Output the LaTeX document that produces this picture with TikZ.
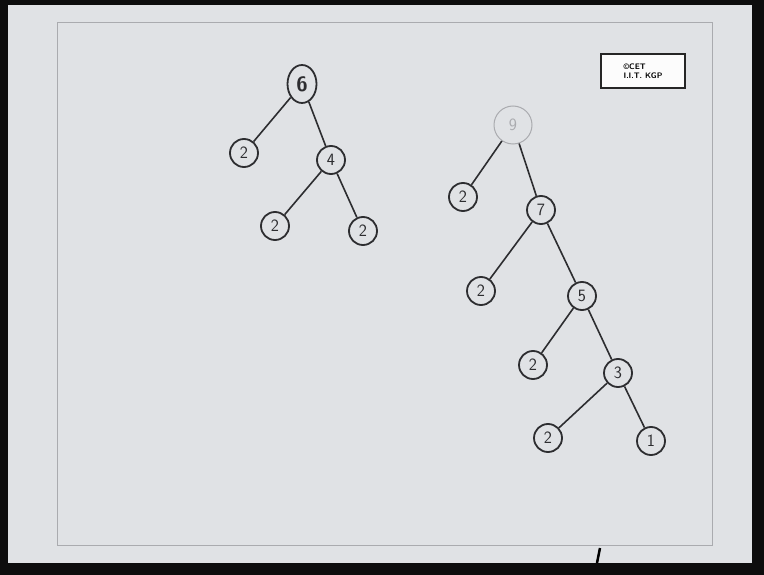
\documentclass[tikz,border=0pt]{standalone}
\usetikzlibrary{shapes.geometric}
\definecolor{paper}{RGB}{224,226,229}
\definecolor{pen}{RGB}{45,45,48}
\definecolor{faint}{RGB}{170,171,175}
\tikzset{
  vtx/.style={draw=pen, circle, line width=1.8pt, minimum size=28pt, inner sep=0pt, font=\LARGE\sffamily, text=pen},
  tall/.style={vtx, ellipse, minimum width=29pt, minimum height=38pt, font=\huge\sffamily\bfseries},
  ghost/.style={vtx, draw=faint, line width=1pt, minimum size=38pt, text=faint},
  edge/.style={draw=pen, line width=1.6pt}
}
\begin{document}
\begin{tikzpicture}[x=1pt, y=-1pt]
    \useasboundingbox (0,0) rectangle (764,575);
    \fill[black!95] (0,0) rectangle (764,575);
    \fill[paper] (8,5) rectangle (752,563);
    \draw[faint, line width=0.8pt] (57,22) rectangle (712,545);
    \node[draw=black!85, line width=1.2pt, fill=white!90!paper, minimum width=84pt, minimum height=34pt,
          align=left, font=\footnotesize\bfseries\sffamily] (logo) at (643,71) {\copyright CET\\I.I.T. KGP};
    \draw[black, line width=2.5pt] (600,548) -- (597,563);

    % first tree
    \node[tall] (six) at (302,84) {6};
    \node[vtx] (a2) at (244,153) {2};
    \node[vtx] (four) at (331,160) {4};
    \node[vtx] (b2) at (275,226) {2};
    \node[vtx] (c2) at (363,231) {2};

    % second tree
    \node[ghost] (nine) at (513,125) {9};
    \node[vtx] (d2) at (463,197) {2};
    \node[vtx] (seven) at (541,210) {7};
    \node[vtx] (e2) at (481,291) {2};
    \node[vtx] (five) at (582,296) {5};
    \node[vtx] (f2) at (533,365) {2};
    \node[vtx] (three) at (618,373) {3};
    \node[vtx] (g2) at (548,438) {2};
    \node[vtx] (one) at (651,441) {1};

    % Edges
    \draw[edge] (six) -- (a2);
    \draw[edge] (six) -- (four);
    \draw[edge] (four) -- (b2);
    \draw[edge] (four) -- (c2);
    \draw[edge] (nine) -- (d2);
    \draw[edge] (nine) -- (seven);
    \draw[edge] (seven) -- (e2);
    \draw[edge] (seven) -- (five);
    \draw[edge] (five) -- (f2);
    \draw[edge] (five) -- (three);
    \draw[edge] (three) -- (g2);
    \draw[edge] (three) -- (one);
\end{tikzpicture}
\end{document}
